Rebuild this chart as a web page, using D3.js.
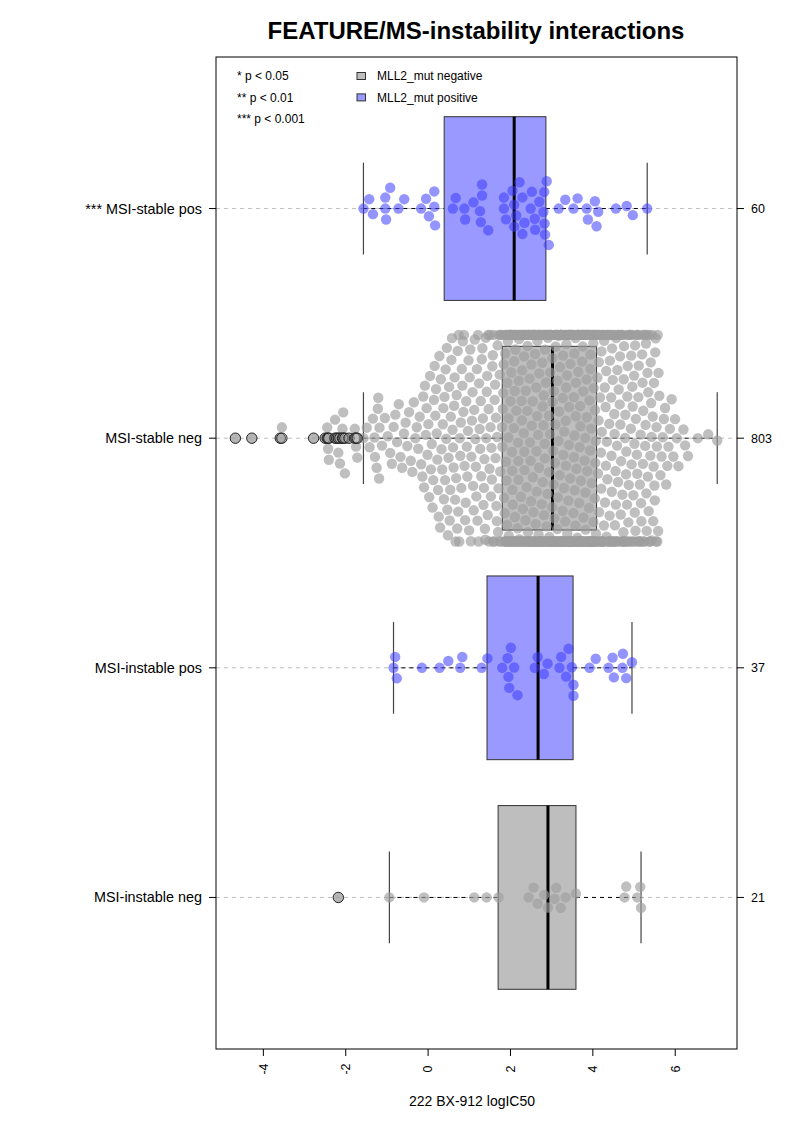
<!DOCTYPE html>
<html><head><meta charset="utf-8">
<script src="https://cdn.jsdelivr.net/npm/d3@7"></script>
<style>
body{margin:0;background:#fff}
svg{display:block}
text{font-family:"Liberation Sans",Arial,Helvetica,sans-serif;fill:#000}
</style>
</head><body><svg id="chart" width="793" height="1122"></svg>
<script>
// ---------- data (groups ordered bottom -> top) ----------
const groupLabels = ["MSI-instable neg", "MSI-instable pos", "MSI-stable neg", "*** MSI-stable pos"];
const groupCounts = ["21", "37", "803", "60"];
const groupMut = ["negative", "positive", "negative", "positive"];

const instableNeg = [-2.18, -0.94, -0.10, 1.12, 1.42, 1.71, 2.44, 2.56, 2.66, 2.82, 2.91, 3.07, 3.11, 3.22, 3.34, 3.59, 4.77, 4.81, 5.08, 5.15, 5.17];
const instablePos = [-0.84, -0.80, -0.76, -0.15, 0.28, 0.49, 0.78, 0.83, 1.30, 1.44, 1.80, 1.93, 1.95, 1.97, 2.01, 2.09, 2.17, 2.59, 2.66, 2.81, 2.90, 3.19, 3.23, 3.35, 3.41, 3.49, 3.53, 3.53, 3.92, 4.07, 4.38, 4.48, 4.51, 4.72, 4.73, 4.81, 4.95];
const stablePos = [-1.57, -1.43, -1.34, -1.04, -1.04, -1.02, -0.92, -0.72, -0.58, -0.17, -0.05, 0.02, 0.15, 0.15, 0.17, 0.60, 0.67, 0.88, 0.90, 1.10, 1.26, 1.28, 1.31, 1.31, 1.46, 1.84, 1.84, 1.89, 2.05, 2.09, 2.09, 2.14, 2.22, 2.29, 2.29, 2.34, 2.49, 2.52, 2.59, 2.60, 2.70, 2.80, 2.82, 2.83, 2.84, 2.88, 2.93, 3.17, 3.33, 3.53, 3.63, 3.85, 3.88, 4.05, 4.09, 4.13, 4.56, 4.82, 4.97, 5.32];
// MSI-stable neg (803 values): individually read tail values + estimated counts per 0.25-wide value bin
const stableNegTail = [-4.68, -4.28, -3.59, -3.55, -2.78, -2.50, -2.45, -2.43, -2.41, -2.26, -2.22, -2.18, -2.14, -2.08, -2.06, -2.02, -1.92, -1.78, -1.75, -1.72,
  -1.57, -1.49, -1.42, -1.34, -1.30, -1.29, -1.25, -1.22, -1.21, -1.19, -1.18, -1.12, -1.05, -0.98, -0.92,
  6.20, 6.24, 6.31, 6.55, 6.80, 7.02];
const stableNegBinStart = -0.9;
const stableNegBinWidth = 0.25;
const stableNegBinCounts = [6, 6, 7, 12, 15, 18, 20, 18, 19, 22, 24, 42, 43, 43, 44, 44, 46, 46, 46, 46, 35, 33, 31, 29, 27, 25, 9, 6];

const boxQ1 = [1.70, 1.43, 1.80, 0.39];
const boxMedian = [2.91, 2.67, 3.02, 2.09];
const boxQ3 = [3.59, 3.52, 4.09, 2.86];
const whiskerLow = [-0.94, -0.84, -1.57, -1.57];
const whiskerHigh = [5.17, 4.95, 7.02, 5.32];

const xTicks = [-4, -2, 0, 2, 4, 6];
const legendSig = ["* p < 0.05", "** p < 0.01", "*** p < 0.001"];
const legendMut = ["MLL2_mut negative", "MLL2_mut positive"];
const legendMutKey = ["negative", "positive"];
const titleText = "FEATURE/MS-instability interactions";
const xTitle = "222 BX-912 logIC50";

// ---------- derived ----------
const stableNeg = stableNegTail.slice();
stableNegBinCounts.forEach((n, k) => {
  const lo = stableNegBinStart + k * stableNegBinWidth;
  for (let j = 0; j < n; j++) stableNeg.push(lo + (j + 0.5) * stableNegBinWidth / n);
});
const groupValues = [instableNeg, instablePos, stableNeg, stablePos];

// ---------- layout ----------
const L = 216, R = 737, T = 57, B = 1049;
const x = d3.scaleLinear().domain([-5.15, 7.5]).range([L, R]);
const y = d3.scaleLinear().domain([0.34, 4.66]).range([B, T]);
const boxFill = {negative: "#BEBEBE", positive: "#9999FF"};
const ptFill = {negative: "rgba(158,158,158,0.66)", positive: "rgba(60,60,255,0.55)"};
const D = 11;          // swarm spacing (px)
const PR = 5.2;        // point radius
const corral = 0.45;   // gutter half-width (group units)

const svg = d3.select("#chart");

// beeswarm "swarm" placement (ascending priority), offsets in px (positive = up)
function swarm(px) {
  const order = px.map((v, i) => i).sort((a, b) => px[a] - px[b]);
  const placed = [];
  const out = new Array(px.length);
  for (const i of order) {
    const xi = px[i];
    let near = placed.filter(p => xi - p.x < D);
    let yo = 0;
    if (near.length) {
      near.sort((a, b) => Math.abs(a.y) - Math.abs(b.y));
      const offs = near.map(p => Math.sqrt(Math.max(0, D * D - (xi - p.x) ** 2)));
      const cands = [0];
      near.forEach((p, k) => cands.push(p.y + offs[k]));
      near.forEach((p, k) => cands.push(p.y - offs[k]));
      let best = Infinity, bestAbs = Infinity;
      for (const c of cands) {
        if (Math.abs(c) >= bestAbs) continue;
        const bad = near.some(p => (xi - p.x) ** 2 + (c - p.y) ** 2 < 0.999 * D * D);
        if (!bad) { best = c; bestAbs = Math.abs(c); }
      }
      yo = best;
    }
    placed.push({x: xi, y: yo});
    out[i] = yo;
  }
  return out;
}

// guide lines
groupLabels.forEach((g, i) => {
  svg.append("line").attr("x1", L).attr("x2", R).attr("y1", y(i + 1)).attr("y2", y(i + 1))
    .attr("stroke", "#BEBEBE").attr("stroke-dasharray", "4,4");
});

// boxplots
groupLabels.forEach((g, i) => {
  const c = y(i + 1);
  const gsel = svg.append("g");
  gsel.append("line").attr("x1", x(whiskerLow[i])).attr("x2", x(boxQ1[i])).attr("y1", c).attr("y2", c)
    .attr("stroke", "#000").attr("stroke-dasharray", "4,4");
  gsel.append("line").attr("x1", x(boxQ3[i])).attr("x2", x(whiskerHigh[i])).attr("y1", c).attr("y2", c)
    .attr("stroke", "#000").attr("stroke-dasharray", "4,4");
  [whiskerLow[i], whiskerHigh[i]].forEach(v => {
    gsel.append("line").attr("x1", x(v)).attr("x2", x(v)).attr("y1", y(i + 1 + 0.2)).attr("y2", y(i + 1 - 0.2))
      .attr("stroke", "#444").attr("stroke-width", 1.2);
  });
  gsel.append("rect").attr("x", x(boxQ1[i])).attr("width", x(boxQ3[i]) - x(boxQ1[i]))
    .attr("y", y(i + 1 + 0.4)).attr("height", y(i + 1 - 0.4) - y(i + 1 + 0.4))
    .attr("fill", boxFill[groupMut[i]]).attr("stroke", "#333").attr("stroke-width", 1);
  gsel.append("line").attr("x1", x(boxMedian[i])).attr("x2", x(boxMedian[i]))
    .attr("y1", y(i + 1 + 0.4)).attr("y2", y(i + 1 - 0.4)).attr("stroke", "#000").attr("stroke-width", 3);
});

// swarm points
const limitPx = y(0) - y(corral);
groupValues.forEach((vals, i) => {
  const px = vals.map(v => x(v));
  const offs = swarm(px).map(o => Math.max(-limitPx, Math.min(limitPx, o)));
  const c = y(i + 1);
  svg.append("g").selectAll("circle").data(vals).join("circle")
    .attr("cx", (v) => x(v)).attr("cy", (v, k) => c - offs[k]).attr("r", PR)
    .attr("fill", ptFill[groupMut[i]]);
});

// outliers
groupValues.forEach((vals, i) => {
  const outl = vals.filter(v => v < whiskerLow[i] - 1e-9 || v > whiskerHigh[i] + 1e-9);
  svg.append("g").selectAll("circle").data(outl).join("circle")
    .attr("cx", v => x(v)).attr("cy", y(i + 1)).attr("r", PR)
    .attr("fill", "rgba(158,158,158,0.3)").attr("stroke", "#222").attr("stroke-width", 1);
});

// frame
svg.append("rect").attr("x", L).attr("y", T).attr("width", R - L).attr("height", B - T)
  .attr("fill", "none").attr("stroke", "#000").attr("stroke-width", 1);

// left axis labels & right counts
groupLabels.forEach((g, i) => {
  const c = y(i + 1);
  svg.append("line").attr("x1", L - 7).attr("x2", L).attr("y1", c).attr("y2", c).attr("stroke", "#000");
  svg.append("text").attr("x", L - 14).attr("y", c).attr("dy", "0.35em").attr("text-anchor", "end")
    .attr("font-size", "14.4px").text(g);
  svg.append("line").attr("x1", R).attr("x2", R + 7).attr("y1", c).attr("y2", c).attr("stroke", "#000");
  svg.append("text").attr("x", R + 14).attr("y", c).attr("dy", "0.35em").attr("font-size", "12.5px").text(groupCounts[i]);
});

// bottom axis
xTicks.forEach(t => {
  svg.append("line").attr("x1", x(t)).attr("x2", x(t)).attr("y1", B).attr("y2", B + 7).attr("stroke", "#000");
  svg.append("text").attr("transform", `translate(${x(t)},1069) rotate(-90)`).attr("text-anchor", "middle")
    .attr("dy", "0.35em").attr("font-size", "12.5px").text(t);
});
svg.append("text").attr("x", 472).attr("y", 1106).attr("text-anchor", "middle").attr("font-size", "14px").text(xTitle);

// title
svg.append("text").attr("x", 476).attr("y", 39).attr("text-anchor", "middle")
  .attr("font-size", "24px").attr("font-weight", "bold").text(titleText);

// legend
legendSig.forEach((s, k) => {
  svg.append("text").attr("x", 237).attr("y", 80.3 + k * 21.2).attr("font-size", "12px").text(s);
});
legendMut.forEach((s, k) => {
  svg.append("rect").attr("x", 357).attr("y", 72.5 + k * 21.4).attr("width", 8.5).attr("height", 7)
    .attr("fill", boxFill[legendMutKey[k]]).attr("stroke", "#333").attr("stroke-width", 1);
  svg.append("text").attr("x", 377).attr("y", 80.3 + k * 21.4).attr("font-size", "12px").text(s);
});
</script>
</body></html>
